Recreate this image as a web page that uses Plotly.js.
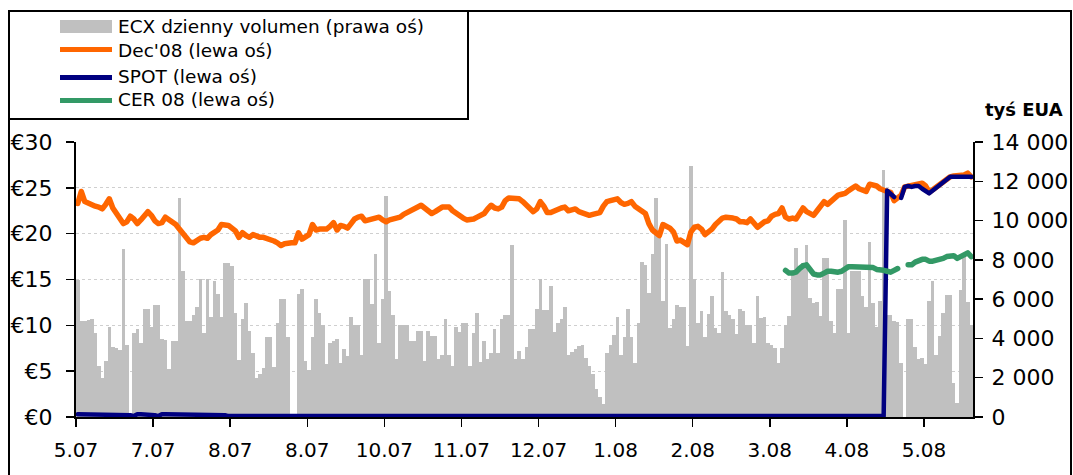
<!DOCTYPE html>
<html>
<head>
<meta charset="utf-8">
<script src="https://cdn.plot.ly/plotly-3.0.1.min.js"></script>
<style>
html,body{margin:0;padding:0;background:#fff;}
.scatterlayer path.js-line{stroke-linejoin:round;stroke-linecap:round;}
</style>
</head>
<body>
<div id="chart" style="width:1073px;height:475px;"></div>
<script>
// ---- data ----
const tickLabels = ['5.07','7.07','8.07','8.07','10.07','11.07','12.07','1.08','2.08','3.08','4.08','5.08'];
const tickEvery = 22; // trading days per labelled tick

// ECX daily volume, thousand EUA (right axis)
const volume = [
7000,4870,4870,4940,5000,4280,2600,2000,2850,4570,
3570,3490,3390,8530,3650,0,4260,4480,3770,5500,
5510,4580,5680,5680,3960,3930,2460,3880,3880,11150,
7410,4900,4870,5170,5590,7010,4280,7010,5070,6910,
6280,5070,7820,7820,7680,5290,2880,5000,5780,4360,
3250,1970,2170,2480,4080,4080,2560,4790,6000,6000,
4080,0,0,6280,6500,2850,2380,4060,6000,5290,
4670,2680,3770,3890,3980,2750,3470,3100,5070,4670,
4670,3180,7010,7010,5760,8320,3770,6000,11240,6390,
5210,2970,4700,4700,4700,3890,3890,4380,4380,2850,
4360,4100,4100,2970,3180,5000,3180,2600,4580,4310,
4790,4790,2600,4280,5290,2800,3880,2970,3270,4480,
3270,5000,5210,5210,8750,2970,3350,2970,3570,4480,
4480,5510,7010,5460,5430,6690,4310,4790,5000,5580,
3180,3300,3440,3610,3660,2980,2600,2170,1450,1000,
660,3270,3690,4160,5070,3180,4080,5510,4080,2760,
4790,7900,7730,6300,8320,11150,9250,5930,8830,4530,
5000,5680,5580,5580,3610,12760,7010,4790,5380,4080,
5260,6180,4530,4280,7400,5380,5210,5000,4230,5490,
5410,4670,4670,3770,6180,5040,5070,3770,3690,3520,
2760,3520,4700,5160,7400,8610,7570,7820,8750,6080,
5800,5880,5120,8100,8100,4870,4280,6520,6520,10040,
4280,7430,7430,7430,6180,5590,8910,5800,4580,5930,
12590,5210,5170,4900,4820,2760,0,5000,5000,3570,
2930,2980,2680,5930,6930,3180,4110,5290,6220,6220,
1750,690,6450,8150,5860,4670
];

// Dec'08 price, EUR (left axis)
const dec08 = [
23.3,24.6,23.5,23.3,23.1,23.0,22.9,22.7,23.2,23.8,
22.8,22.2,21.5,21.1,21.3,21.9,21.6,21.1,21.5,22.0,
22.4,22.0,21.4,21.1,21.2,21.8,21.5,21.2,21.0,20.5,
20.0,19.5,19.1,19.0,19.3,19.5,19.6,19.5,19.9,20.2,
20.4,21.0,20.9,20.9,20.6,20.3,19.6,20.1,19.8,19.6,
19.9,19.7,19.6,19.6,19.5,19.4,19.2,19.0,18.7,18.9,
19.0,19.0,19.0,20.1,19.4,19.6,19.9,21.0,20.4,20.5,
20.5,20.5,20.8,21.2,20.4,20.9,20.8,20.6,21.1,21.6,
21.8,21.9,21.4,21.5,21.6,21.8,21.8,21.5,21.3,21.5,
21.6,21.7,21.8,22.1,22.3,22.4,22.7,22.9,23.1,22.8,
22.5,22.2,22.4,22.6,22.9,22.9,22.9,22.5,22.2,22.0,
21.7,21.5,21.5,21.6,21.8,22.0,22.2,22.7,23.1,22.8,
22.7,22.9,23.6,23.9,23.9,23.9,23.8,23.5,23.1,22.6,
22.4,22.7,23.5,23.0,22.3,22.3,22.5,22.6,22.8,22.9,
22.5,22.6,22.7,22.4,22.3,22.2,22.0,22.1,22.2,22.3,
23.0,23.5,23.6,23.7,23.8,23.4,23.2,23.3,23.5,23.0,
22.7,22.4,22.2,21.1,20.4,20.1,19.8,21.0,20.8,20.6,
20.2,19.2,19.3,19.1,18.8,20.2,20.7,20.8,20.5,19.9,
20.2,20.5,21.0,21.3,21.7,21.8,21.8,21.7,21.6,21.3,
21.3,21.2,21.6,21.1,20.7,21.0,21.3,21.4,21.9,22.1,
22.2,22.8,21.8,21.6,21.7,21.6,22.2,22.8,22.4,22.2,
22.0,22.5,22.9,23.5,23.2,23.6,24.0,24.2,24.3,24.4,
24.7,25.0,25.2,24.9,24.7,24.6,25.4,25.3,25.2,24.9,
24.7,24.6,24.5,23.6,23.9,24.2,25.1,25.2,25.2,25.3,
25.4,25.5,25.2,24.5,24.8,25.1,25.3,25.6,26.0,26.2,
26.3,26.3,26.4,26.4,26.6,26.2
];

// SPOT price, EUR (left axis)
const spot = [
0.3,0.3,0.3,0.3,0.3,0.3,0.3,0.3,0.3,0.3,
0.3,0.3,0.3,0.3,0.3,0.2,0.1,0.3,0.3,0.3,
0.3,0.3,0.2,0.1,0.3,0.3,0.3,0.3,0.3,0.3,
0.3,0.3,0.3,0.3,0.3,0.3,0.2,0.2,0.3,0.3,
0.3,0.3,0.2,0.1,0.1,0.1,0.1,0.1,0.1,0.1,
0.1,0.1,0.1,0.1,0.1,0.1,0.1,0.1,0.1,0.1,
0.1,0.1,0.1,0.1,0.1,0.1,0.1,0.1,0.1,0.1,
0.1,0.1,0.1,0.1,0.1,0.1,0.1,0.1,0.1,0.1,
0.1,0.1,0.1,0.1,0.1,0.1,0.1,0.1,0.1,0.1,
0.1,0.1,0.1,0.1,0.1,0.1,0.1,0.1,0.1,0.1,
0.1,0.1,0.1,0.1,0.1,0.1,0.1,0.1,0.1,0.1,
0.1,0.1,0.1,0.1,0.1,0.1,0.1,0.1,0.1,0.1,
0.1,0.1,0.1,0.1,0.1,0.1,0.1,0.1,0.1,0.1,
0.1,0.1,0.1,0.1,0.1,0.1,0.1,0.1,0.1,0.1,
0.1,0.1,0.1,0.1,0.1,0.1,0.1,0.1,0.1,0.1,
0.1,0.1,0.1,0.1,0.1,0.1,0.1,0.1,0.1,0.1,
0.1,0.1,0.1,0.1,0.1,0.1,0.1,0.1,0.1,0.1,
0.1,0.1,0.1,0.1,0.1,0.1,0.1,0.1,0.1,0.1,
0.1,0.1,0.1,0.1,0.1,0.1,0.1,0.1,0.1,0.1,
0.1,0.1,0.1,0.1,0.1,0.1,0.1,0.1,0.1,0.1,
0.1,0.1,0.1,0.1,0.1,0.1,0.1,0.1,0.1,0.1,
0.1,0.1,0.1,0.1,0.1,0.1,0.1,0.1,0.1,0.1,
0.1,0.1,0.1,0.1,0.1,0.1,0.1,0.1,0.1,0.1,
0.1,24.7,24.4,24.0,null,23.9,25.1,25.2,25.1,25.2,
25.2,24.9,24.6,24.4,24.7,25.0,25.3,25.6,26.0,26.2,
26.2,26.2,26.2,26.2,26.3,26.2
];

// CER 08 price, EUR (left axis) - quoted from trading day index cerStart
const cerStart = 202;
const cer08 = [
16.0,15.7,15.7,15.8,16.2,16.5,16.6,16.0,15.6,15.5,
15.5,15.7,15.9,15.9,15.8,15.8,15.9,16.2,16.4,16.4,
16.4,16.4,16.3,16.3,16.4,16.3,16.1,16.1,16.0,15.9,
15.8,16.0,16.2,null,null,16.6,16.6,16.9,17.1,17.2,
17.2,17.0,17.0,17.1,17.1,17.3,17.5,17.6,17.6,17.3,
17.5,17.8,17.9,17.5
];

const names = ['ECX dzienny volumen (prawa oś)', "Dec'08 (lewa oś)", 'SPOT (lewa oś)', 'CER 08 (lewa oś)'];
const colors = ['#c0c0c0', '#ff6600', '#000080', '#339966'];

// ---- build ----
const days = volume.map((v, i) => i);
const cerDays = cer08.map((v, k) => cerStart + k);
const tickvals = tickLabels.map((t, k) => k * tickEvery - 0.5);

const traces = [
  {type:'bar', x:days, y:volume, yaxis:'y', name:names[0],
   marker:{color:colors[0], line:{width:0}}, hoverinfo:'skip'},
  {type:'scatter', mode:'lines', x:days, y:dec08, yaxis:'y2', name:names[1],
   line:{color:colors[1], width:5.5, shape:'linear'}, connectgaps:false},
  {type:'scatter', mode:'lines', x:days, y:spot, yaxis:'y2', name:names[2],
   line:{color:colors[2], width:4.5}, connectgaps:false},
  {type:'scatter', mode:'lines', x:cerDays, y:cer08, yaxis:'y2', name:names[3],
   line:{color:colors[3], width:5.5}, connectgaps:false}
];

// pixel -> paper helpers for the frame / legend box
const L = 76, R = 100, T = 142, B = 58, W = 1073, H = 475;
const pw = W - L - R, ph = H - T - B;
const X = px => (px - L) / pw;
const Y = py => (H - B - py) / ph;

const shapes = [
  {type:'rect', xref:'paper', yref:'paper', x0:X(9), x1:X(1071), y0:Y(500), y1:Y(11),
   line:{color:'#000', width:2}, fillcolor:'rgba(0,0,0,0)', layer:'above'},
  {type:'rect', xref:'paper', yref:'paper', x0:X(9), x1:X(468), y0:Y(119), y1:Y(11),
   line:{color:'#000', width:2}, fillcolor:'rgba(0,0,0,0)', layer:'above'},
  {type:'rect', xref:'paper', yref:'paper', x0:X(60), x1:X(112), y0:Y(33), y1:Y(20),
   line:{width:0}, fillcolor:colors[0]},
  {type:'line', xref:'paper', yref:'paper', x0:X(60), x1:X(112), y0:Y(49.5), y1:Y(49.5),
   line:{color:colors[1], width:5}},
  {type:'line', xref:'paper', yref:'paper', x0:X(60), x1:X(112), y0:Y(77.5), y1:Y(77.5),
   line:{color:colors[2], width:5}},
  {type:'line', xref:'paper', yref:'paper', x0:X(60), x1:X(112), y0:Y(100.5), y1:Y(100.5),
   line:{color:colors[3], width:5}}
];

const rowY = [26.5, 50.5, 76, 100];
const annotations = names.map((n, k) => ({
  xref:'paper', yref:'paper', x:X(116), y:Y(rowY[k]), xanchor:'left', yanchor:'middle',
  text:n, showarrow:false, font:{size:18.5, color:'#000', family:'DejaVu Sans'}
}));
annotations.push({
  xref:'paper', yref:'paper', x:X(1024), y:Y(110), xanchor:'center', yanchor:'middle',
  text:'<b>tyś EUA</b>', showarrow:false, font:{size:18, color:'#000', family:'DejaVu Sans'}
});

const layout = {
  width:W, height:H,
  margin:{l:L, r:R, t:T, b:B, pad:0},
  paper_bgcolor:'#fff', plot_bgcolor:'#fff',
  showlegend:false,
  separators:', ',
  bargap:0,
  font:{family:'DejaVu Sans', color:'#000'},
  xaxis:{
    range:[-0.5, volume.length - 0.5], tickmode:'array', tickvals:tickvals, ticktext:tickLabels,
    ticks:'outside', ticklen:8, tickwidth:1.5, tickcolor:'#000',
    showline:true, linecolor:'#000', linewidth:2, showgrid:false, zeroline:false,
    tickfont:{size:20, color:'#000'}, ticklabelstandoff:6, fixedrange:true
  },
  yaxis:{
    side:'right', range:[0, 14000], tickmode:'linear', tick0:0, dtick:2000,
    tickformat:',d', separatethousands:true,
    ticks:'outside', ticklen:8, tickwidth:1.5, tickcolor:'#000',
    showline:true, linecolor:'#000', linewidth:2, showgrid:false, zeroline:false,
    tickfont:{size:22, color:'#000'}, ticklabelstandoff:4, fixedrange:true
  },
  yaxis2:{
    overlaying:'y', side:'left', range:[0, 30], tickmode:'linear', tick0:0, dtick:5,
    tickprefix:'€',
    ticks:'outside', ticklen:8, tickwidth:1.5, tickcolor:'#000',
    showline:true, linecolor:'#000', linewidth:2,
    showgrid:true, gridcolor:'#cfcfcf', gridwidth:1, griddash:'dot', zeroline:false,
    tickfont:{size:22, color:'#000'}, ticklabelstandoff:9, fixedrange:true
  },
  shapes:shapes,
  annotations:annotations
};

Plotly.newPlot('chart', traces, layout, {displayModeBar:false, staticPlot:true});
</script>
</body>
</html>
